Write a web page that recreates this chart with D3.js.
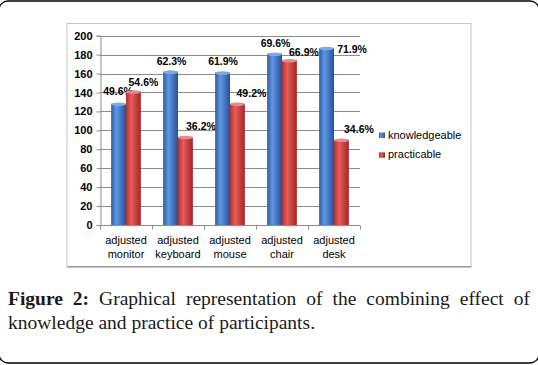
<!DOCTYPE html>
<html>
<head>
<meta charset="utf-8">
<script src="https://cdn.jsdelivr.net/npm/d3@7"></script>
<style>
  body { margin: 0; background: #fff; }
  svg { display: block; }
  .sans { font-family: 'Liberation Sans', Arial, sans-serif; }
  .serif { font-family: 'Liberation Serif', 'Times New Roman', serif; }
</style>
</head>
<body>
<div id="app"></div>
<script>
const categories = ['adjusted monitor', 'adjusted keyboard', 'adjusted mouse', 'adjusted chair', 'adjusted desk']
const seriesNames = ['knowledgeable', 'practicable']
const knowledgeable = [128, 162, 161, 181, 187]
const practicable = [141, 93, 128, 174, 90]
const knowledgeablePct = ['49.6%', '62.3%', '61.9%', '69.6%', '71.9%']
const practicablePct = ['54.6%', '36.2%', '49.2%', '66.9%', '34.6%']
const yTicks = [0, 20, 40, 60, 80, 100, 120, 140, 160, 180, 200]
const captionBold = ['Figure', '2:']
const captionLine1 = 'Graphical representation of the combining effect of'
const captionLine2 = 'knowledge and practice of participants.'

// the data labels were dragged by hand in the original, so keep their nudges apart
const labelNudge = {
  knowledgeable: [[-0.5, -9], [1, -7], [0.5, -8], [1, -7], [25.5, 5.3]],
  practicable: [[10, -6], [15.5, -7], [14, -7], [14.5, -4], [17.5, -7]]
}

const width = 538
const height = 365
const plot = {left: 100, right: 360, top: 35.7, bottom: 225}

const values = {knowledgeable: knowledgeable, practicable: practicable}
const pcts = {knowledgeable: knowledgeablePct, practicable: practicablePct}
const colors = {
  knowledgeable: {edge: '#2c5ca8', mid: '#5f97e4', dark: '#27519a', cap: '#79aaee'},
  practicable: {edge: '#b3302f', mid: '#e65d5b', dark: '#a22625', cap: '#f08684'}
}

const svg = d3.select('#app').append('svg')
  .attr('width', width)
  .attr('height', height)
  .attr('viewBox', [0, 0, width, height])

const defs = svg.append('defs')
for (const s of seriesNames) {
  const g = defs.append('linearGradient').attr('id', 'grad-' + s)
    .attr('x1', 0).attr('x2', 1).attr('y1', 0).attr('y2', 0)
  g.append('stop').attr('offset', '0%').attr('stop-color', colors[s].edge)
  g.append('stop').attr('offset', '35%').attr('stop-color', colors[s].mid)
  g.append('stop').attr('offset', '100%').attr('stop-color', colors[s].dark)
}

// outer figure frame
svg.append('rect')
  .attr('x', -1).attr('y', 1).attr('width', width + 2).attr('height', 362)
  .attr('rx', 9)
  .attr('fill', 'none').attr('stroke', '#000').attr('stroke-width', 1.3)

// chart area box
svg.append('rect')
  .attr('x', 67).attr('y', 23.5).attr('width', 404).attr('height', 243)
  .attr('fill', '#fff').attr('stroke', '#c6c6c6').attr('stroke-width', 1)
svg.append('line')
  .attr('x1', 67).attr('x2', 471.5).attr('y1', 266.8).attr('y2', 266.8)
  .attr('stroke', '#8f8f8f').attr('stroke-width', 1.2)

const yScale = d3.scaleLinear().domain([0, 200]).range([plot.bottom, plot.top])
const x0 = d3.scaleBand().domain(categories).range([plot.left, plot.right])
const x1 = d3.scaleBand().domain(seriesNames).range([0, x0.bandwidth()]).paddingOuter(0.75)

// gridlines
svg.append('g').selectAll('line')
  .data(yTicks.filter(d => d > 0))
  .enter().append('line')
  .attr('x1', plot.left).attr('x2', plot.right)
  .attr('y1', d => Math.round(yScale(d)) + 0.5)
  .attr('y2', d => Math.round(yScale(d)) + 0.5)
  .attr('stroke', '#8c8c8c').attr('stroke-width', 1)

// y axis
const yAxis = svg.append('g')
  .attr('transform', `translate(${plot.left + 0.5},0)`)
  .call(d3.axisLeft(yScale).tickValues(yTicks).tickSize(4).tickPadding(4))
yAxis.select('.domain').attr('stroke', '#8c8c8c')
yAxis.selectAll('.tick line').attr('stroke', '#8c8c8c')
yAxis.selectAll('.tick text')
  .attr('class', 'sans').attr('font-size', 11).attr('font-weight', 'bold').attr('fill', '#000')

// x axis, ticks sit on category boundaries
const xAxisY = Math.round(yScale(0)) + 0.5
svg.append('line')
  .attr('x1', plot.left).attr('x2', plot.right).attr('y1', xAxisY).attr('y2', xAxisY)
  .attr('stroke', '#8c8c8c')
svg.append('g').selectAll('line')
  .data(categories.concat(['end']))
  .enter().append('line')
  .attr('x1', (d, i) => Math.round(plot.left + i * x0.step()) + 0.5)
  .attr('x2', (d, i) => Math.round(plot.left + i * x0.step()) + 0.5)
  .attr('y1', xAxisY).attr('y2', xAxisY + 4)
  .attr('stroke', '#8c8c8c')

const catLabels = svg.append('g').selectAll('text')
  .data(categories)
  .enter().append('text')
  .attr('class', 'sans')
  .attr('font-size', 11)
  .attr('text-anchor', 'middle')
  .attr('fill', '#000')
catLabels.selectAll('tspan')
  .data(d => d.split(' ').map(w => ({w: w, cat: d})))
  .enter().append('tspan')
  .attr('x', d => x0(d.cat) + x0.bandwidth() / 2)
  .attr('y', (d, i) => 243.5 + i * 14)
  .text(d => d.w)

// bars
const barData = []
categories.forEach((c, i) => {
  seriesNames.forEach(s => {
    barData.push({cat: c, series: s, value: values[s][i], pct: pcts[s][i], nudge: labelNudge[s][i]})
  })
})

const bars = svg.append('g').selectAll('g')
  .data(barData)
  .enter().append('g')

bars.append('rect')
  .attr('x', d => x0(d.cat) + x1(d.series))
  .attr('y', d => yScale(d.value))
  .attr('width', x1.bandwidth())
  .attr('height', d => yScale(0) - yScale(d.value))
  .attr('fill', d => `url(#grad-${d.series})`)

bars.append('ellipse')
  .attr('cx', d => x0(d.cat) + x1(d.series) + x1.bandwidth() / 2)
  .attr('cy', d => yScale(d.value) + 0.5)
  .attr('rx', x1.bandwidth() / 2)
  .attr('ry', 1.8)
  .attr('fill', d => colors[d.series].cap)

bars.append('text')
  .attr('class', 'sans')
  .attr('font-size', 10.5)
  .attr('font-weight', 'bold')
  .attr('text-anchor', 'middle')
  .attr('fill', '#000')
  .attr('x', d => x0(d.cat) + x1(d.series) + x1.bandwidth() / 2 + d.nudge[0])
  .attr('y', d => yScale(d.value) + d.nudge[1])
  .text(d => d.pct)

// legend
const legend = svg.append('g').attr('transform', 'translate(379,132.5)')
const legendItem = legend.selectAll('g')
  .data(seriesNames)
  .enter().append('g')
  .attr('transform', (d, i) => `translate(0,${i * 19.8})`)
legendItem.append('rect')
  .attr('width', 6).attr('height', 5.5)
  .attr('fill', d => `url(#grad-${d})`)
legendItem.append('text')
  .attr('class', 'sans')
  .attr('font-size', 11)
  .attr('x', 9).attr('y', 6)
  .attr('fill', '#000')
  .text(d => d)

// caption, first line justified between the margins
const capLeft = 8
const capRight = 530
const words = captionBold.map(w => ({w: w, bold: true}))
  .concat(captionLine1.split(' ').map(w => ({w: w, bold: false})))
const cap = svg.append('g').attr('class', 'serif').attr('font-size', 19.5).attr('fill', '#1a1a1a')
const wordNodes = cap.selectAll('text.word')
  .data(words)
  .enter().append('text')
  .attr('class', 'word')
  .attr('y', 304.5)
  .attr('font-weight', d => d.bold ? 'bold' : 'normal')
  .text(d => d.w)
let widths = []
wordNodes.each(function () { widths.push(this.getComputedTextLength()) })
const gap = (capRight - capLeft - d3.sum(widths)) / (words.length - 1)
let cursor = capLeft
wordNodes.each(function (d, i) {
  d3.select(this).attr('x', cursor)
  cursor += widths[i] + gap
})
cap.append('text')
  .attr('x', capLeft).attr('y', 328.5)
  .text(captionLine2)
</script>
</body>
</html>
